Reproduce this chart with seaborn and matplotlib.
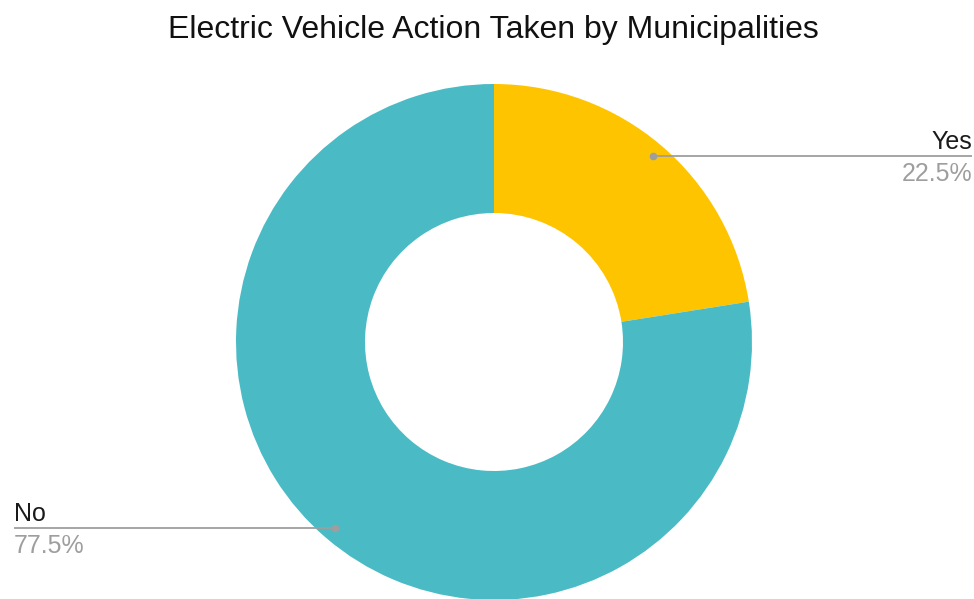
import numpy as np
import matplotlib
matplotlib.use("Agg")
import matplotlib.pyplot as plt
import seaborn as sns

title = "Electric Vehicle Action Taken by Municipalities"
categories = ["Yes", "No"]
shares = [22.5, 77.5]
colors = ["#FFC400", "#4ABBC5"]

sns.set_theme(style="white")
plt.rcParams["font.family"] = ["Liberation Sans", "DejaVu Sans"]
palette = sns.color_palette(colors)

W, H = 974, 599
fig = plt.figure(figsize=(W / 100, H / 100), dpi=100)
ax = fig.add_axes([0, 0, 1, 1])
ax.set_xlim(0, W)
ax.set_ylim(0, H)
ax.set_aspect("equal")
ax.axis("off")

cx, cy, R = 494, H - 342, 258
wedges, _ = ax.pie(shares, colors=palette, startangle=90, counterclock=False,
                   center=(cx, cy), radius=R,
                   wedgeprops=dict(width=129, edgecolor="none"))
ax.set_xlim(0, W)
ax.set_ylim(0, H)

fig.text(493 / W, 1 - 30 / H, title, ha="center", va="center", fontsize=23, color="#111111")

line_col = "#9E9E9E"
for w, name, val in zip(wedges, categories, shares):
    mid = np.deg2rad((w.theta1 + w.theta2) / 2)
    px = cx + 0.95 * R * np.cos(mid)
    py = cy + 0.95 * R * np.sin(mid)
    if np.cos(mid) >= 0:
        xend, ha = 972, "right"
    else:
        xend, ha = 14, "left"
    ax.plot([px, xend], [py, py], color=line_col, lw=1.3, solid_capstyle="butt")
    ax.plot([px], [py], "o", color=line_col, ms=4.5)
    ax.text(xend, py + 7, name, ha=ha, va="baseline", fontsize=18, color="#1a1a1a")
    ax.text(xend, py - 25, f"{val}%", ha=ha, va="baseline", fontsize=18, color="#9E9E9E")

fig.savefig("out.png", dpi=100)
